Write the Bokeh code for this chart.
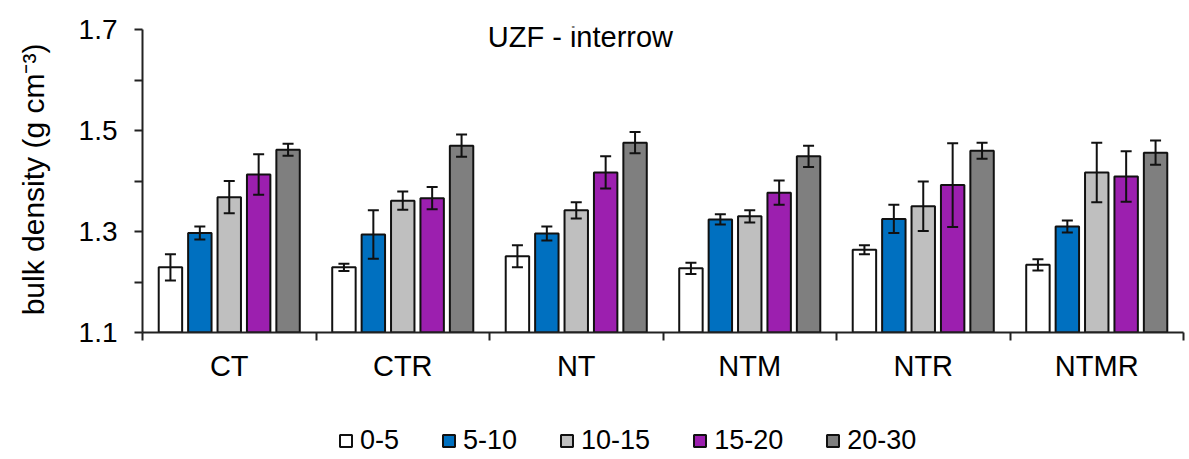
import numpy as np
from bokeh.plotting import figure
from bokeh.layouts import column
from bokeh.models import (ColumnDataSource, Range1d, FixedTicker, Whisker, TeeHead,
                          Legend, LegendItem, Label, PrintfTickFormatter)
from bokeh.embed import file_html
from bokeh.resources import INLINE

# ---- data ----
categories = ["CT", "CTR", "NT", "NTM", "NTR", "NTMR"]
depths = ["0-5", "5-10", "10-15", "15-20", "20-30"]

d0_5 = [1.229, 1.229, 1.251, 1.227, 1.264, 1.234]
e0_5 = [0.026, 0.007, 0.022, 0.011, 0.009, 0.011]
d5_10 = [1.297, 1.294, 1.296, 1.324, 1.325, 1.310]
e5_10 = [0.013, 0.048, 0.014, 0.010, 0.028, 0.012]
d10_15 = [1.368, 1.361, 1.342, 1.330, 1.350, 1.417]
e10_15 = [0.032, 0.018, 0.016, 0.012, 0.049, 0.059]
d15_20 = [1.413, 1.366, 1.417, 1.377, 1.392, 1.409]
e15_20 = [0.040, 0.022, 0.032, 0.024, 0.083, 0.050]
d20_30 = [1.462, 1.470, 1.476, 1.449, 1.460, 1.456]
e20_30 = [0.012, 0.022, 0.021, 0.021, 0.016, 0.024]

means = [d0_5, d5_10, d10_15, d15_20, d20_30]
errs = [e0_5, e5_10, e10_15, e15_20, e20_30]
colors = ["#FFFFFF", "#0070C0", "#BFBFBF", "#9C1FAF", "#7F7F7F"]

y_ticks = [1.1, 1.3, 1.5, 1.7]
y_minor = [1.2, 1.4, 1.6]

FONT = "Liberation Sans"
EDGE = "#111111"

p = figure(width=1189, height=405, x_range=Range1d(0, 6), y_range=Range1d(1.1, 1.706),
           output_backend="svg", toolbar_location=None,
           min_border_left=142, min_border_right=6, min_border_top=26, min_border_bottom=73)
p.xgrid.visible = False
p.ygrid.visible = False
p.outline_line_color = None

centers = np.arange(len(categories)) + 0.5
pitch = 0.1695
bw = 0.135

# ---- legend strip ----
lf = figure(width=1189, height=54, x_range=Range1d(0, 1), y_range=Range1d(0, 1),
            output_backend="svg", toolbar_location=None,
            x_axis_location=None, y_axis_location=None, min_border=0)
lf.xgrid.visible = False
lf.ygrid.visible = False
lf.outline_line_color = None
items = []

for j, (d, m, e, c) in enumerate(zip(depths, means, errs, colors)):
    xs = centers + (j - 2) * pitch
    m = np.array(m)
    e = np.array(e)
    src = ColumnDataSource(dict(x=xs, top=m, upper=m + e, lower=m - e))
    p.vbar(x="x", top="top", bottom=1.1, width=bw, source=src,
           fill_color=c, line_color=EDGE, line_width=2)
    w = Whisker(base="x", upper="upper", lower="lower", source=src, dimension="height",
                line_color=EDGE, line_width=2, level="overlay",
                upper_head=TeeHead(size=11, line_width=2, line_color=EDGE),
                lower_head=TeeHead(size=11, line_width=2, line_color=EDGE))
    p.add_layout(w)
    # key renderer for the legend strip (hidden; only its legend swatch is shown)
    r = lf.vbar(x="x", top="top", bottom=1.1, width=bw, source=src,
                fill_color=c, line_color=EDGE, line_width=2, visible=False)
    items.append(LegendItem(label=d, renderers=[r]))

# y axis
ya = p.yaxis[0]
ya.bounds = (1.1, 1.7)
ya.ticker = FixedTicker(ticks=y_ticks, minor_ticks=y_minor)
ya.formatter = PrintfTickFormatter(format="%.1f")
ya.major_tick_in = 0
ya.major_tick_out = 8
ya.minor_tick_in = 0
ya.minor_tick_out = 8
ya.axis_line_width = 2
ya.major_tick_line_width = 2
ya.minor_tick_line_width = 2
ya.axis_line_color = "#222222"
ya.major_tick_line_color = "#222222"
ya.minor_tick_line_color = "#222222"
ya.major_label_text_font = FONT
ya.major_label_text_font_size = "28px"
ya.major_label_text_color = "black"
ya.major_label_standoff = 17
ya.axis_label = "bulk density (g cm\u207b\u00b3)"
ya.axis_label_text_font = FONT
ya.axis_label_text_font_size = "30px"
ya.axis_label_text_font_style = "normal"
ya.axis_label_text_color = "black"
ya.axis_label_standoff = 26

# x axis
xa = p.xaxis[0]
xa.ticker = FixedTicker(ticks=list(centers), minor_ticks=list(range(len(categories) + 1)))
xa.major_label_overrides = {float(c): n for c, n in zip(centers, categories)}
xa.major_tick_in = 0
xa.major_tick_out = 0
xa.minor_tick_in = 0
xa.minor_tick_out = 8
xa.axis_line_width = 2
xa.minor_tick_line_width = 2
xa.axis_line_color = "#222222"
xa.minor_tick_line_color = "#222222"
xa.major_label_text_font = FONT
xa.major_label_text_font_size = "29px"
xa.major_label_text_color = "black"
xa.major_label_standoff = 9

# title inside plot
title = Label(x=1.99, y=1.686, text="UZF - interrow", text_font=FONT,
              text_font_size="29px", text_align="left", text_baseline="middle",
              text_color="black")
p.add_layout(title)

legend = Legend(items=items, orientation="horizontal", location=(196, 3),
                glyph_width=15, glyph_height=15, label_standoff=7, spacing=42,
                padding=0, margin=0, border_line_alpha=0, background_fill_alpha=0,
                inactive_fill_alpha=0,
                label_text_font=FONT, label_text_font_size="27px", label_text_color="black")
lf.add_layout(legend)

layout = column(p, lf, spacing=0)
open("out.html", "w").write(file_html(layout, INLINE))
